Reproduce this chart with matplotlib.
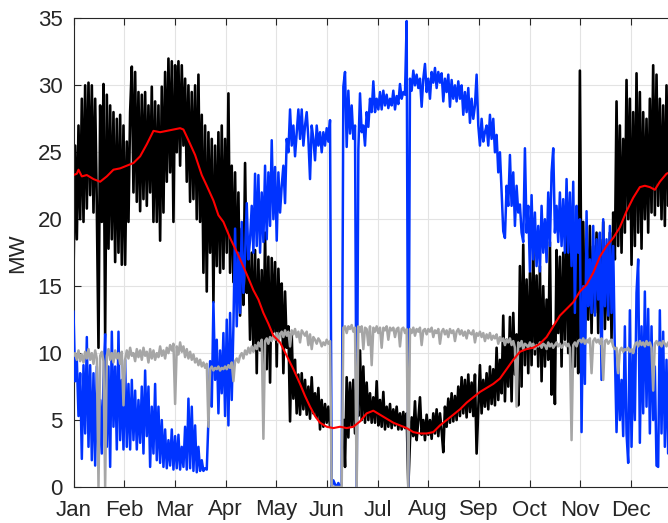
import numpy as np
import matplotlib
matplotlib.use("Agg")
import matplotlib.pyplot as plt

plt.rcParams['font.family'] = ['Liberation Sans', 'DejaVu Sans']

months = ['Jan', 'Feb', 'Mar', 'Apr', 'May', 'Jun', 'Jul', 'Aug', 'Sep', 'Oct', 'Nov', 'Dec']
yticks = [0, 5, 10, 15, 20, 25, 30, 35]
nan = float('nan')

# daily readings (MW), black series
black = [
    15.8, 25.5, 18.5, 27.0, 20.0, 29.0, 19.8, 30.0, 20.8, 30.2,
    21.8, 30.0, 20.5, 29.0, 21.0, 10.4, 28.5, 19.8, 30.1, 11.4,
    29.3, 17.8, 28.5, 18.5, 28.0, 16.8, 27.5, 17.5, 27.8, 16.6,
    27.0, 16.6, 25.8, 19.8, 28.0, 31.4, 22.0, 31.0, 21.3, 29.5,
    20.6, 29.3, 21.5, 29.5, 21.0, 28.5, 22.0, 29.9, 19.8, 28.8,
    19.8, 28.5, 18.4, 29.9, 20.5, 31.0, 22.8, 32.0, 23.5,
    31.8, 19.8, 31.5, 25.0, 31.8, 24.0, 31.5, 25.5, 30.5, 22.8,
    30.0, 21.3, 29.5, 21.5, 30.0, 20.0, 30.8, 19.8, 27.8, 16.0,
    27.0, 14.6, 26.5, 17.5, 26.0, 13.8, 25.5, 16.5, 26.5, 16.0, 27.0,
    16.3, 26.0, 17.5, 29.4, 16.0, 24.0, 15.3, 23.5, 14.0, 22.0,
    12.8, 19.3, 13.6, 24.2, 14.5, 17.8, 11.0, 17.5, 10.2, 17.7,
    8.5, 17.0, 10.2, 16.2, 9.0, 19.0, 8.8, 17.2, 7.8, 17.1,
    11.6, 16.8, 9.0, 16.3, 11.6, 15.2, 8.5, 14.6, 10.4, 12.0,
    4.9, 11.4, 6.6, 9.5, 5.5, 8.4, 5.4, 8.5, 5.8, 8.0,
    5.4, 7.5, 5.1, 8.2, 5.5, 7.0, 5.2, 7.4, 4.3, 6.5, 4.5,
    6.2, 4.8, 6.0, 4.5, nan, nan, nan, nan, nan, nan,
    nan, 5.0, 1.5, 8.2, 3.7, 7.8, 4.5, 8.0, 4.0, 6.5,
    5.3, 10.2, 5.0, 9.0, 4.8, 7.8, 5.0, 7.0, 4.8, 6.7,
    4.8, 7.9, 4.6, 6.5, 4.5, 7.1, 4.3, 6.0, 4.5, 6.2,
    4.4, 5.8, 4.6, 6.0, 4.3, 5.5, 4.3, 5.6, 4.4, 5.5,
    0.0, 3.5, 5.2, 3.8, 6.4, 3.5, 5.0, 6.7, 3.9, 5.0, 3.5,
    5.4, 3.9, 5.0, 3.6, 5.5, 4.0, 5.8, 3.8, 5.5, 4.2,
    2.6, 6.0, 4.5, 6.6, 4.8, 7.0, 4.9, 6.8, 5.0, 7.5,
    5.3, 8.2, 5.5, 8.0, 5.2, 8.4, 5.6, 7.8, 5.3, 8.4, 2.5,
    5.9, 9.1, 5.5, 8.0, 6.0, 8.5, 5.8, 9.0, 6.2, 8.8,
    6.1, 10.4, 6.5, 9.5, 7.0, 12.8, 6.4, 11.0, 7.5, 12.7,
    6.4, 13.0, 8.4, 11.4, 6.1, 16.5, 7.5, 18.1, 9.1, 15.5,
    8.5, 16.0, 9.1, 18.0, 9.9, 15.8, 9.0, 16.5, 7.9, 15.0,
    9.0, 14.0, 9.5, 18.3, 6.9, 12.0, 6.2, 17.7, 11.5, 17.2,
    9.0, 17.5, 11.0, 20.0, 10.0, 18.3, 8.1, 19.5, 9.0, 20.5, 8.5,
    31.1, 12.0, 19.8, 11.1, 18.5, 12.5, 19.5, 11.5, 18.0, 13.0,
    19.0, 11.5, 18.5, 12.0, 19.8, 11.8, 18.0, 12.5, 19.0, 11.1,
    20.5, 17.0, 28.8, 18.0, 27.0, 17.5, 26.0, 19.0, 30.4, 20.0,
    29.0, 16.6, 28.0, 18.0, 30.9, 19.0, 29.5, 17.8, 28.0, 20.0,
    27.5, 19.0, 29.0, 20.5, 31.5, 20.3, 30.8, 21.0, 29.0, 20.0,
    28.5, 19.5, 30.0, 21.0, 29.0, 20.0, 30.5, 21.5, 29.5, 20.0, 28.5,
]

# daily readings (MW), blue series
blue = [
    13.1, 7.9, 9.5, 5.3, 8.5, 2.1, 9.1, 4.0, 11.2, 3.0,
    9.1, 2.0, 8.5, 1.6, 9.0, 1.5, 6.5, 2.5, 8.0, 11.4,
    3.0, 9.0, 1.5, 11.6, 4.5, 9.0, 2.8, 11.6, 3.5, 8.0, 2.8,
    9.5, 3.0, 7.7, 2.8, 8.0, 3.5, 7.2, 2.8, 6.5, 3.3,
    7.5, 2.5, 8.7, 3.8, 7.5, 1.5, 6.0, 2.5, 7.7, 2.0,
    6.0, 1.8, 5.0, 1.5, 4.3, 1.4, 3.5, 1.6,
    4.3, 1.3, 3.8, 1.4, 3.9, 1.3, 3.0, 1.5, 4.5, 1.3,
    6.6, 1.4, 6.0, 1.2, 4.6, 1.1, 3.0, 1.2, 2.0, 1.2,
    1.4, 1.3, 5.0, 9.4, 6.0, 13.8, 8.0, 11.0, 5.5, 10.2, 7.0,
    11.5, 5.3, 12.5, 4.6, 13.0, 6.5, 12.0, 19.3, 12.0, 17.5,
    13.0, 19.8, 14.5, 17.3, 21.2, 17.0, 18.5, 21.0, 17.5, 23.4,
    18.0, 23.3, 17.5, 22.0, 18.3, 24.0, 18.5, 23.5, 19.5, 25.9,
    20.0, 23.9, 18.4, 23.5, 20.5, 22.5, 24.0, 21.2, 26.0, 25.0,
    28.2, 25.5, 27.0, 24.7, 26.5, 28.2, 26.0, 28.2, 25.5, 27.0,
    28.0, 26.0, 23.0, 27.0, 26.0, 24.4, 27.0, 25.5, 26.5, 25.0, 26.5,
    25.5, 26.8, 25.8, 27.4, 0.0, 0.5, 0.2, 0.0, 0.3, 0.0,
    0.2, 29.9, 31.0, 25.4, 29.6, 26.4, 28.5, 26.0, 27.0, 0.0,
    25.2, 29.4, 26.5, 27.0, 25.5, 28.0, 26.9, 29.0, 28.0, 30.3,
    28.0, 29.0, 28.2, 29.5, 28.2, 29.6, 28.5, 29.3, 28.3, 29.0,
    28.5, 29.6, 28.2, 29.2, 28.6, 30.1, 29.0, 29.5, 29.3, 34.8,
    0.0, 30.5, 29.6, 31.1, 30.0, 30.8, 29.8, 30.5, 28.4, 30.5, 31.6,
    29.5, 30.5, 29.0, 31.0, 30.2, 31.3, 29.8, 31.0, 30.2, 30.9,
    28.8, 30.5, 29.5, 30.8, 28.4, 30.4, 29.0, 30.0, 28.8, 30.3,
    29.0, 30.0, 27.8, 29.5, 28.0, 29.8, 27.2, 29.0, 27.5, 28.5, 30.8,
    27.0, 25.5, 27.5, 25.8, 26.5, 27.0, 25.5, 27.8, 26.0, 27.5,
    25.0, 26.3, 23.5, 25.0, 22.0, 19.1, 18.6, 22.5, 21.0, 24.8,
    21.0, 23.5, 19.5, 22.5, 20.5, 21.1, 19.0, 18.3, 25.3, 19.0,
    21.0, 16.1, 21.8, 17.0, 20.5, 16.5, 19.5, 16.1, 21.0, 17.5,
    20.0, 16.8, 22.0, 18.0, 23.5, 25.3, 19.0, 21.0, 18.3, 22.0,
    18.0, 21.5, 17.5, 23.0, 17.5, 22.0, 16.5, 22.8, 13.0, 21.0, 17.5,
    20.0, 4.1, 15.0, 7.7, 20.6, 13.5, 17.0, 13.0, 19.5, 12.8,
    18.5, 14.0, 19.0, 8.0, 20.0, 13.5, 18.5, 12.8, 19.5, 13.0,
    18.0, 10.0, 4.1, 9.5, 5.0, 8.0, 3.8, 12.0, 4.0, 1.8,
    13.2, 3.0, 10.0, 5.0, 14.5, 17.0, 3.3, 12.0, 5.5, 14.6,
    6.0, 13.3, 4.0, 12.0, 5.0, 9.0, 1.6, 1.5, 13.2, 4.0,
    11.6, 3.0, 9.5, 2.5, 12.0, 4.0, 10.5, 3.5, 11.0, 5.0, 9.0,
]

# daily readings (MW), gray series
gray = [
    9.8, 10.0, 9.5, 10.2, 9.4, 9.9, 9.3, 10.1, 9.6, 10.3,
    9.5, 10.0, 9.2, 10.2, 9.6, 0.0, 9.8, 10.1, 9.4, 0.0,
    9.8, 10.3, 9.5, 10.0, 9.3, 10.2, 9.6, 10.0, 9.2, 10.1, 6.1,
    9.5, 10.2, 9.6, 10.4, 9.8, 10.0, 9.4, 10.3, 9.7, 10.2,
    9.5, 10.4, 9.8, 10.1, 9.3, 10.3, 9.6, 10.2, 9.5, 10.0,
    9.7, 10.5, 9.8, 10.2, 9.6, 10.4, 10.0, 10.6,
    10.2, 10.7, 6.2, 10.5, 9.9, 10.8, 10.1, 10.5, 9.7, 10.3,
    9.6, 10.1, 9.5, 9.9, 9.3, 9.6, 9.1, 9.5, 9.0, 9.3,
    8.9, 9.2, 4.5, 8.8, 9.0, 8.7, 8.9, 8.8, 9.0, 8.7, 8.9,
    8.8, 9.0, 8.8, 9.1, 8.9, 9.3, 7.9, 9.4, 9.6, 9.3,
    9.8, 10.0, 9.6, 10.2, 9.9, 10.4, 10.0, 10.5, 10.1, 10.6,
    10.3, 10.8, 10.5, 11.0, 3.6, 10.9, 11.1, 10.7, 11.2, 10.9,
    11.3, 11.0, 11.5, 10.8, 11.4, 11.6, 11.2, 11.7, 11.3, 11.6,
    10.5, 11.7, 11.4, 11.8, 11.2, 11.6, 10.8, 11.7, 11.5, 11.3,
    11.6, 10.6, 11.4, 10.3, 11.2, 11.0, 10.7, 11.1, 10.9, 10.5, 10.8,
    10.6, 11.0, 10.7, 10.9, 0.0, 0.0, 0.0, 0.0, 0.0, 0.0,
    0.0, 11.9, 12.0, 11.5, 12.0, 11.8, 12.1, 11.6, 11.9, 0.0,
    12.0, 11.6, 12.0, 10.3, 11.9, 11.8, 10.6, 12.0, 9.1, 11.9,
    11.6, 12.0, 11.5, 11.9, 10.4, 11.9, 11.7, 12.0, 11.0, 11.9,
    11.7, 11.9, 11.2, 11.8, 11.9, 10.5, 11.8, 11.9, 11.5, 11.8,
    0.0, 11.8, 11.5, 11.9, 11.3, 11.8, 11.6, 11.9, 10.6, 11.7, 11.8,
    11.4, 11.8, 11.6, 11.9, 11.2, 11.7, 11.5, 11.8, 10.7, 11.6,
    11.8, 11.4, 11.7, 11.2, 11.8, 11.5, 11.7, 10.9, 11.6, 11.8,
    11.4, 11.7, 11.3, 11.6, 11.1, 11.7, 11.5, 11.4, 11.7, 10.8, 11.5,
    11.3, 11.6, 11.2, 11.5, 10.9, 11.4, 11.1, 11.5, 11.0, 11.3,
    11.1, 11.4, 10.7, 11.2, 10.9, 11.1, 10.6, 11.0, 10.8, 11.1,
    10.6, 10.9, 10.4, 6.0, 10.8, 10.5, 10.9, 10.3, 10.7, 10.6,
    10.4, 10.8, 10.5, 10.7, 10.3, 10.6, 10.5, 10.8, 10.4, 10.7,
    10.6, 10.3, 10.8, 10.5, 10.7, 10.4, 10.6, 10.8, 10.5, 10.7,
    10.4, 10.6, 10.8, 10.5, 10.7, 10.4, 3.5, 10.6, 10.8, 10.5, 10.9,
    11.0, 10.8, 11.1, 10.7, 11.0, 10.8, 11.1, 8.5, 10.9, 11.1,
    10.8, 11.0, 10.7, 11.1, 8.0, 10.9, 11.0, 10.7, 10.9, 11.0,
    10.5, 10.3, 10.4, 8.5, 10.2, 10.4, 10.1, 10.3, 10.2, 10.4,
    10.1, 10.3, 10.0, 10.6, 10.8, 10.5, 10.9, 10.6, 10.8, 10.5,
    10.9, 10.6, 10.8, 10.4, 7.2, 10.7, 10.9, 10.6, 10.8, 10.5,
    10.9, 10.7, 10.5, 10.8, 10.6, 10.9, 10.7, 10.8, 10.6, 10.9, 10.7,
]

# smooth red curve (day, MW)
red_days = [0, 2, 3, 5, 8, 12, 16, 20, 24, 28, 32, 36, 40, 44, 48, 52, 56, 60, 64, 66,
            69, 73, 77, 80, 84, 87, 90, 94, 99, 105, 108, 111, 114, 117, 120, 124, 128,
            132, 136, 139, 142, 145, 148, 152, 156, 160, 164, 168, 172, 176, 180, 184,
            188, 192, 196, 200, 204, 208, 212, 216, 220, 224, 228, 232, 236, 240, 244,
            248, 252, 256, 260, 264, 268, 272, 276, 280, 284, 288, 292, 296, 300, 304,
            308, 312, 316, 320, 324, 328, 332, 336, 340, 343, 346, 349, 352, 356, 360, 364]
red_vals = [23.3, 23.4, 23.7, 23.2, 23.3, 23.0, 22.8, 23.2, 23.7, 23.8, 24.0, 24.2, 24.7,
            25.6, 26.6, 26.5, 26.6, 26.7, 26.8, 26.7, 25.9, 24.8, 23.3, 22.5, 21.4, 20.3,
            19.8, 18.6, 17.3, 15.6, 14.7, 14.0, 13.0, 12.2, 11.3, 10.8, 9.8, 8.8, 7.7, 6.8,
            6.0, 5.3, 4.8, 4.5, 4.4, 4.5, 4.4, 4.5, 4.9, 5.5, 5.7, 5.4, 5.1, 4.8, 4.6, 4.4,
            4.1, 4.0, 4.0, 4.1, 4.6, 5.0, 5.4, 5.8, 6.3, 6.7, 7.1, 7.4, 7.7, 8.1, 8.8, 9.5,
            10.1, 10.3, 10.4, 10.7, 11.2, 12.0, 12.8, 13.3, 13.8, 14.6, 15.1, 16.0, 17.2,
            18.0, 18.6, 19.4, 20.6, 21.6, 22.4, 22.5, 22.4, 22.2, 22.8, 23.4, 23.6, 23.7]

W, H = 668, 523
fig = plt.figure(figsize=(W / 100, H / 100), dpi=100)
ax = fig.add_axes([73.5 / W, 36 / H, 608 / W, (487 - 18.4) / H])

ax.plot(np.arange(len(black)), black, color='black', lw=1.9, zorder=2)
ax.plot(np.arange(len(blue)), blue, color='#0033ff', lw=1.8, zorder=3)
ax.plot(np.arange(len(gray)), gray, color='#a6a6a6', lw=1.8, zorder=4)
ax.plot(red_days, red_vals, color='#ff0000', lw=1.5, zorder=5)

ax.set_xlim(0, 365)
ax.set_ylim(0, 35)
ax.set_xticks([i * 365 / 12 for i in range(12)])
ax.set_xticklabels(months)
ax.set_yticks(yticks)
ax.set_yticklabels([str(v) for v in yticks])
ax.grid(True, color='#e3e3e3', lw=0.8)
ax.set_axisbelow(True)
txt = '#262626'
ax.tick_params(direction='in', length=5, width=0.8, colors=txt, labelsize=16,
               top=True, right=True)
ax.tick_params(axis='x', pad=9)
ax.tick_params(axis='y', pad=8)
for s in ax.spines.values():
    s.set_color(txt)
    s.set_linewidth(0.8)
ax.set_ylabel('MW', fontsize=16, color=txt)
ax.yaxis.set_label_coords(-0.075, 0.5)

fig.savefig('out.png', dpi=100)
